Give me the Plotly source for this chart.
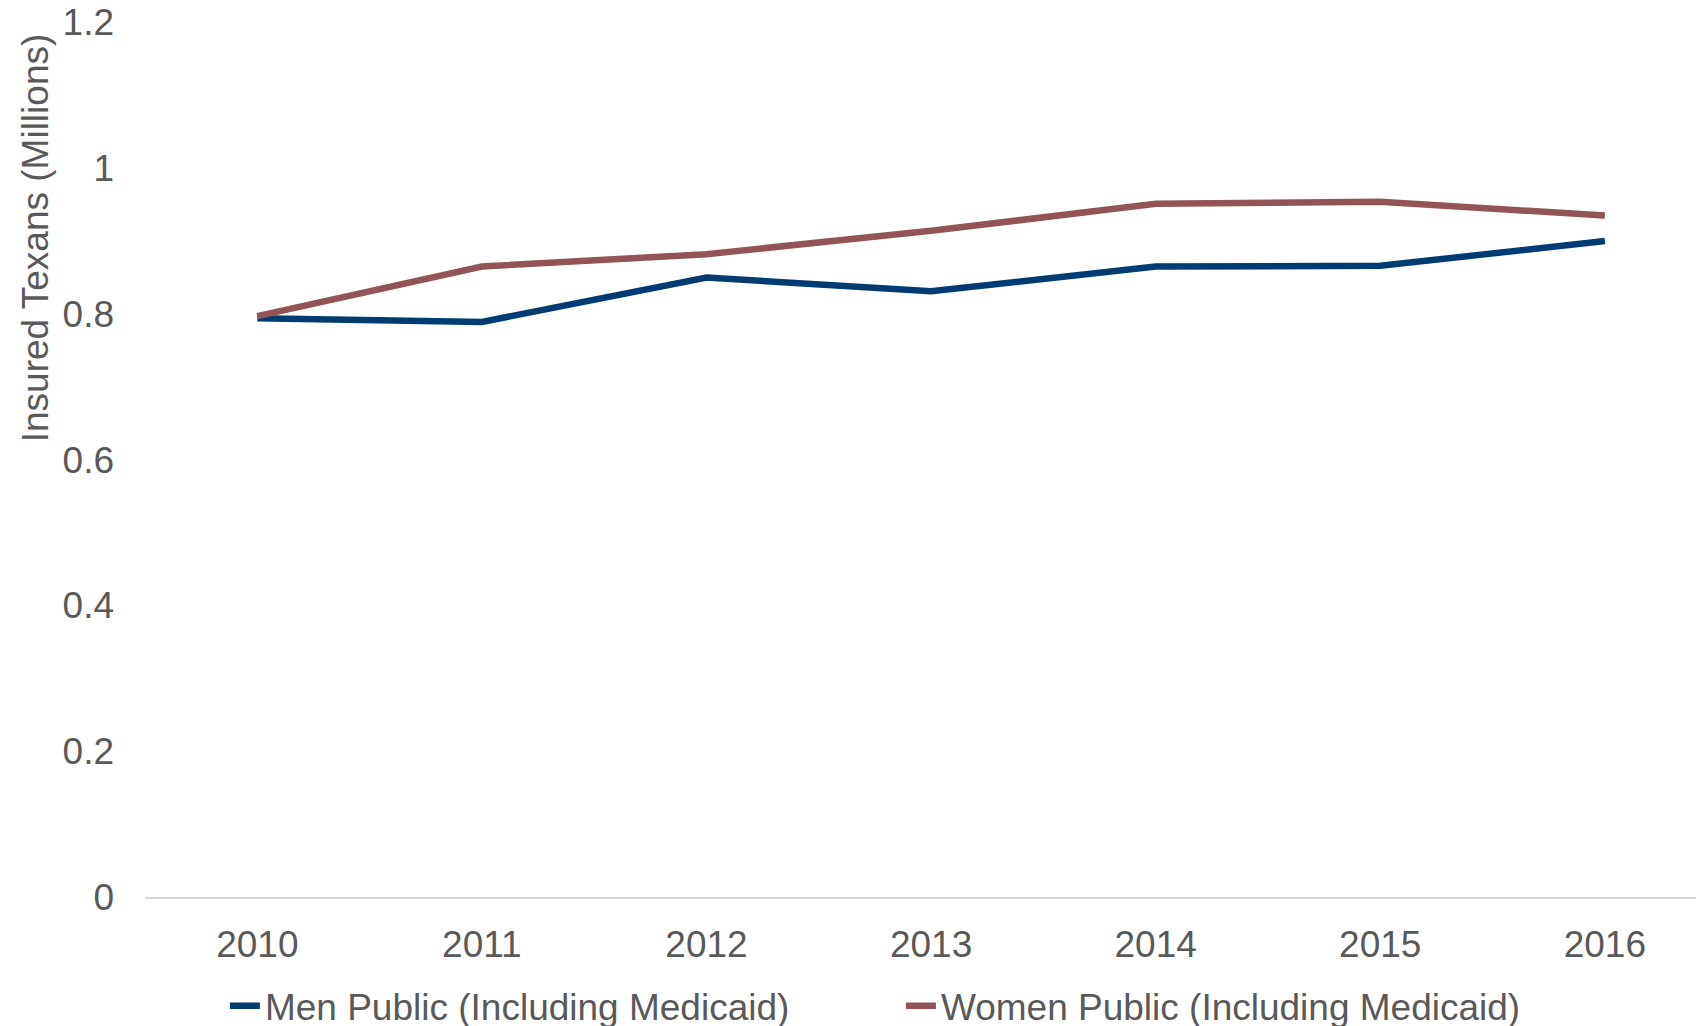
import plotly.graph_objects as go

years = ["2010", "2011", "2012", "2013", "2014", "2015", "2016"]
men_public = [0.794, 0.789, 0.850, 0.831, 0.865, 0.866, 0.900]
women_public = [0.797, 0.865, 0.882, 0.914, 0.951, 0.954, 0.935]
series_names = ["Men Public (Including Medicaid)", "Women Public (Including Medicaid)"]
y_ticks = [0, 0.2, 0.4, 0.6, 0.8, 1.0, 1.2]
y_ticklabels = ["0", "0.2", "0.4", "0.6", "0.8", "1", "1.2"]
y_title = "Insured Texans (Millions)"

FONT = "Liberation Sans, Arial, sans-serif"
GRAY = "#595959"
FS = 37

fig = go.Figure()
fig.add_trace(go.Scatter(x=years, y=men_public, mode="lines", name=series_names[0],
                         line=dict(color="#003B71", width=6.5)))
fig.add_trace(go.Scatter(x=years, y=women_public, mode="lines", name=series_names[1],
                         line=dict(color="#935457", width=6.5)))

fig.update_layout(
    width=1704, height=1026,
    margin=dict(l=137, r=0, t=14, b=137, autoexpand=False),
    paper_bgcolor="white", plot_bgcolor="white",
    font=dict(family=FONT, size=FS, color=GRAY),
    showlegend=True,
    legend=dict(orientation="h", x=0.051, xanchor="left",
                yref="container", y=0.027, yanchor="middle",
                font=dict(size=FS, color=GRAY), entrywidth=631, entrywidthmode="pixels",
                bgcolor="rgba(0,0,0,0)"),
    xaxis=dict(type="category", range=[-0.5, 6.477], showgrid=False, zeroline=False,
               showline=True, linecolor="#d9d9d9", linewidth=2, ticks="",
               ticklabelstandoff=14, tickfont=dict(size=FS, color=GRAY)),
    yaxis=dict(range=[0, 1.2005], tickmode="array", tickvals=y_ticks, ticktext=y_ticklabels,
               showgrid=False, zeroline=False, showline=False, ticklabeloverflow="allow",
               ticks="", ticklabelstandoff=30, tickfont=dict(size=FS, color=GRAY)),
    annotations=[dict(text=y_title, xref="paper", yref="paper", x=-0.0702, y=0.754,
                      xanchor="center", yanchor="middle", textangle=-90, showarrow=False,
                      font=dict(size=FS, color=GRAY, family=FONT))],
)

fig.write_html("out.html")
